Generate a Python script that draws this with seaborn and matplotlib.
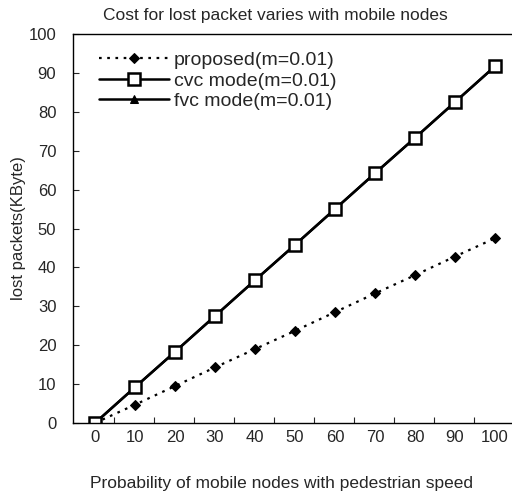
import numpy as np
import pandas as pd
import seaborn as sns
from matplotlib import pyplot as plt

speed_prob = [0, 10, 20, 30, 40, 50, 60, 70, 80, 90, 100]
proposed = [0, 4.7, 9.5, 14.3, 19.0, 23.7, 28.5, 33.3, 38.0, 42.8, 47.5]
cvc_mode = [0, 9.2, 18.3, 27.5, 36.7, 45.8, 55.0, 64.2, 73.3, 82.5, 91.7]
fvc_mode = [0, 9.2, 18.3, 27.5, 36.7, 45.8, 55.0, 64.2, 73.3, 82.5, 91.7]

sns.set_style("white")
plt.rcParams["font.family"] = ["Liberation Sans", "DejaVu Sans"]

fig = plt.figure(figsize=(5.12, 4.98), dpi=100)
ax = fig.add_axes([0.1426, 0.1506, 0.8574, 0.7811])

sns.lineplot(x=speed_prob, y=proposed, ax=ax, color="black", linestyle=(0, (1.2, 2.5)),
             linewidth=1.6, marker="D", markersize=5.5, markeredgecolor="black",
             label="proposed(m=0.01)")
sns.lineplot(x=speed_prob, y=fvc_mode, ax=ax, color="black", linestyle="-",
             linewidth=1.8, marker="^", markersize=6, markeredgecolor="black",
             label="fvc mode(m=0.01)")
sns.lineplot(x=speed_prob, y=cvc_mode, ax=ax, color="black", linestyle="-",
             linewidth=1.8, marker="s", markersize=8, markerfacecolor="white",
             markeredgecolor="black", markeredgewidth=1.8, label="cvc mode(m=0.01)")

ax.set_xlim(-5.5, 104.25)
ax.set_ylim(0, 100)
ax.set_xticks(speed_prob)
ax.set_xticks([x + 4.8 for x in speed_prob[:-1]], minor=True)
ax.set_yticks(range(0, 101, 10))
ax.tick_params(axis="x", which="major", length=0, pad=5, labelsize=12)
ax.tick_params(axis="x", which="minor", direction="in", length=4, width=0.8, bottom=True)
ax.tick_params(axis="y", direction="in", length=4, width=0.8, left=True, labelsize=12, pad=12)

for side in ["top", "left", "bottom"]:
    ax.spines[side].set_color("black")
    ax.spines[side].set_linewidth(1.0)
ax.spines["right"].set_visible(False)

ax.set_title("Cost for lost packet varies with mobile nodes", fontsize=12.5, pad=10, x=0.46)
ax.set_xlabel("Probability of mobile nodes with pedestrian speed", fontsize=12.5,
              labelpad=22, x=0.475)
ax.set_ylabel("lost packets(KByte)", fontsize=12, labelpad=2)

handles, labels = ax.get_legend_handles_labels()
order = [0, 2, 1]
ax.legend([handles[i] for i in order], [labels[i] for i in order], loc="upper left",
          frameon=False, fontsize=14, handlelength=3.6, handletextpad=0.25,
          labelspacing=0.15, bbox_to_anchor=(0.02, 1.0))

fig.savefig("out.png", dpi=100)
